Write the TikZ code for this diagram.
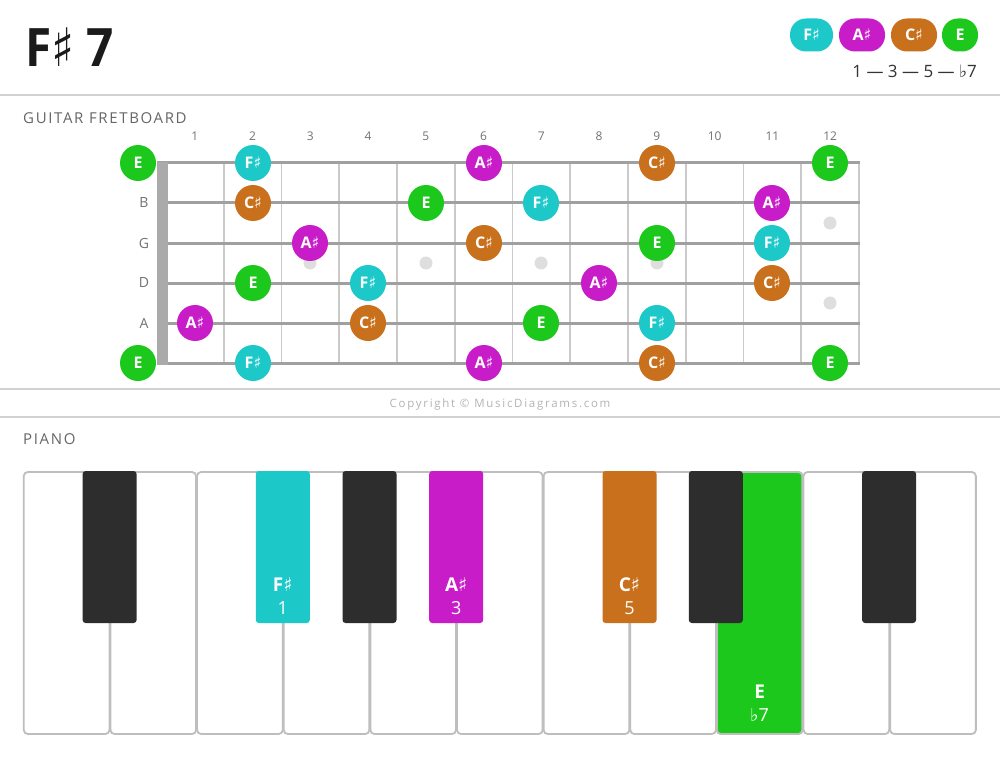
\documentclass[tikz,border=0pt]{standalone}
\usepackage{fontspec}
\setmainfont{Open Sans}
\newfontfamily\symfont{DejaVu Sans}
\newcommand{\shp}{{\symfont ♯}}
\newcommand{\flt}{{\symfont ♭}}

\definecolor{colF}{HTML}{1CC8C8}
\definecolor{colA}{HTML}{C71CC8}
\definecolor{colC}{HTML}{C8701C}
\definecolor{colE}{HTML}{1CC81C}
\definecolor{rulegray}{HTML}{D2D2D2}
\definecolor{stringgray}{HTML}{A0A0A0}
\definecolor{fretgray}{HTML}{CACACA}
\definecolor{nutgray}{HTML}{AAAAAA}
\definecolor{inlaygray}{HTML}{DEDEDE}
\definecolor{labelgray}{HTML}{727272}
\definecolor{headgray}{HTML}{666666}
\definecolor{copygray}{HTML}{B4B4B4}
\definecolor{keyedge}{HTML}{BEBEBE}
\definecolor{keyblack}{HTML}{2D2D2D}
\definecolor{titleblack}{HTML}{1A1A1A}
\definecolor{stepgray}{HTML}{333333}

\tikzset{
    note/.style={circle, minimum size=36pt, inner sep=0pt, text=white, font=\fontsize{16}{16}\selectfont\bfseries},
    fsnote/.style={note, fill=colF},
    asnote/.style={note, fill=colA},
    csnote/.style={note, fill=colC},
    enote/.style={note, fill=colE},
    pill/.style={rounded corners=16pt, minimum height=33pt, inner sep=0pt, text=white, font=\fontsize{16}{16}\selectfont\bfseries},
    fretnum/.style={text=labelgray, font=\fontsize{12}{12}\selectfont},
    strlabel/.style={text=labelgray, font=\fontsize{14}{14}\selectfont},
    heading/.style={anchor=west, inner sep=0pt, text=headgray, font=\fontsize{15}{15}\selectfont\addfontfeature{LetterSpace=11}},
    rule/.style={rulegray, line width=2pt},
    stringline/.style={stringgray, line width=3pt},
    fretline/.style={fretgray, line width=1.6pt},
    whitekey/.style={draw=keyedge, line width=1.8pt, rounded corners=4pt, fill=white},
    keyname/.style={text=white, font=\fontsize{19}{19}\selectfont\bfseries},
    keydeg/.style={text=white, font=\fontsize{18}{18}\selectfont}
}

\begin{document}
\begin{tikzpicture}[x=1pt, y=-1pt]
    \fill[white] (0,0) rectangle (1000,759);
    \useasboundingbox (0,0) rectangle (1000,759);

    \node[anchor=base west, inner sep=0pt, xscale=0.9, transform shape, text=titleblack, font=\fontsize{53}{53}\selectfont\bfseries] (title) at (25,67) {F\shp\ 7};

    \begin{scope}[every node/.style={pill}]
        \node[fill=colF, minimum width=43pt] (L_1) at (811.5,35) {F\shp};
        \node[fill=colA, minimum width=46pt] (L_2) at (862,35) {A\shp};
        \node[fill=colC, minimum width=46pt] (L_3) at (914,35) {C\shp};
        \node[fill=colE, minimum width=36pt] (L_4) at (960,35) {E};
    \end{scope}
    \node[anchor=east, inner sep=0pt, text=stepgray, font=\fontsize{17}{17}\selectfont] (steps) at (977,71) {1 — 3 — 5 — \flt7};

    \draw[rule] (0,95) -- (1000,95);
    \node[heading] (hGuitar) at (23,118) {GUITAR FRETBOARD};

    \foreach \n in {1,...,12}
        \node[fretnum] (N_\n) at ({166+57.75*(\n-0.5)},136) {\n};

    \foreach \n in {1,...,12}
        \draw[fretline] ({166+57.75*\n},163) -- ({166+57.75*\n},363);
    \fill[inlaygray] (310,263) circle (6.5) (426,263) circle (6.5) (541,263) circle (6.5)
        (657,263) circle (6.5) (830,223) circle (6.5) (830,303) circle (6.5);
    \foreach \y in {163,203,...,363}
        \draw[stringline] (157,\y) -- (860,\y);
    \fill[nutgray] (157,162) rectangle (168,364.5);

    \node[strlabel] (T_2) at (144,203) {B};
    \node[strlabel] (T_3) at (144,243) {G};
    \node[strlabel] (T_4) at (144,283) {D};
    \node[strlabel] (T_5) at (144,323) {A};

    \node[enote] (S1_0) at (138,163) {E};
    \node[fsnote] (S1_2) at (253,163) {F\shp};
    \node[asnote] (S1_6) at (484,163) {A\shp};
    \node[csnote] (S1_9) at (657,163) {C\shp};
    \node[enote] (S1_12) at (830,163) {E};

    \node[csnote] (S2_2) at (253,203) {C\shp};
    \node[enote] (S2_5) at (426,203) {E};
    \node[fsnote] (S2_7) at (541,203) {F\shp};
    \node[asnote] (S2_11) at (772,203) {A\shp};

    \node[asnote] (S3_3) at (310,243) {A\shp};
    \node[csnote] (S3_6) at (484,243) {C\shp};
    \node[enote] (S3_9) at (657,243) {E};
    \node[fsnote] (S3_11) at (772,243) {F\shp};

    \node[enote] (S4_2) at (253,283) {E};
    \node[fsnote] (S4_4) at (368,283) {F\shp};
    \node[asnote] (S4_8) at (599,283) {A\shp};
    \node[csnote] (S4_11) at (772,283) {C\shp};

    \node[asnote] (S5_1) at (195,323) {A\shp};
    \node[csnote] (S5_4) at (368,323) {C\shp};
    \node[enote] (S5_7) at (541,323) {E};
    \node[fsnote] (S5_9) at (657,323) {F\shp};

    \node[enote] (S6_0) at (138,363) {E};
    \node[fsnote] (S6_2) at (253,363) {F\shp};
    \node[asnote] (S6_6) at (484,363) {A\shp};
    \node[csnote] (S6_9) at (657,363) {C\shp};
    \node[enote] (S6_12) at (830,363) {E};

    \draw[rule] (0,389) -- (1000,389);
    \node[text=copygray, font=\fontsize{11.5}{11.5}\selectfont\addfontfeature{LetterSpace=15}] (copyright) at (500,405) {Copyright © MusicDiagrams.com};
    \draw[rule] (0,416.5) -- (1000,416.5);

    \node[heading] (hPiano) at (23,439) {PIANO};

    \foreach \i in {0,...,10}
        \draw[whitekey] ({23.8+86.64*\i},472) rectangle ({22.8+86.64*(\i+1)},734);
    \draw[whitekey, fill=colE] (716.9,472) rectangle (802.3,734);

    \foreach \x in {109.6,369.5,715.8,889.1}
        \fill[keyblack, rounded corners=3pt] ({\x-27},471) rectangle ({\x+27},623);
    \fill[colF, rounded corners=3pt] (255.8,471) rectangle (309.8,623);
    \fill[colA, rounded corners=3pt] (429.2,471) rectangle (483.2,623);
    \fill[colC, rounded corners=3pt] (602.5,471) rectangle (656.5,623);

    \node[keyname] (K_1) at (282.8,585) {F\shp};
    \node[keydeg] (D_1) at (282.8,608) {1};
    \node[keyname] (K_2) at (456.2,585) {A\shp};
    \node[keydeg] (D_2) at (456.2,608) {3};
    \node[keyname] (K_3) at (629.5,585) {C\shp};
    \node[keydeg] (D_3) at (629.5,608) {5};
    \node[keyname] (K_4) at (759.6,692) {E};
    \node[keydeg] (D_4) at (759.6,715) {\flt7};
\end{tikzpicture}
\end{document}
